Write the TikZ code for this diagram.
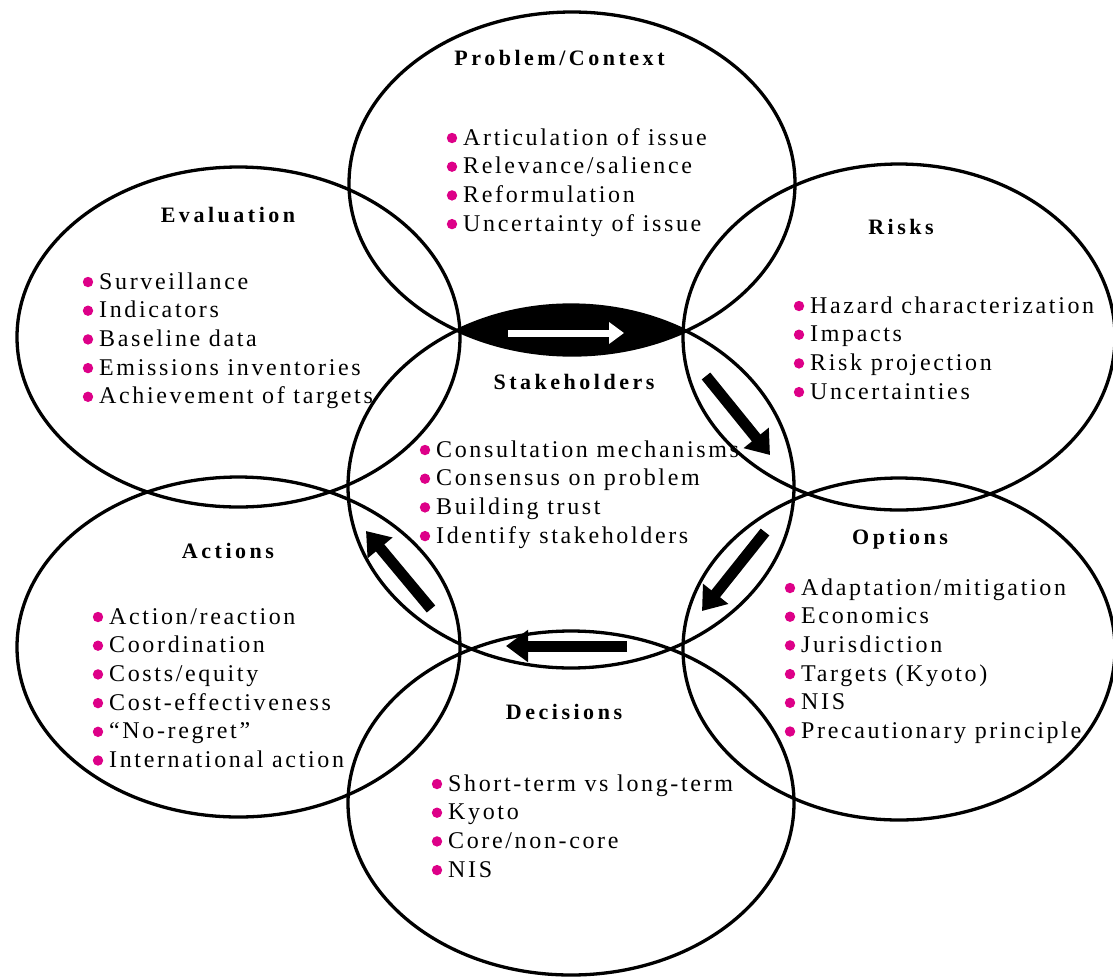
\documentclass[tikz,border=0pt]{standalone}
\usepackage{fontspec}
\setmainfont{Liberation Serif}
\newfontfamily\bodyfont[LetterSpace=11]{Liberation Serif}
\newfontfamily\headfont[LetterSpace=16]{Liberation Serif}
\usetikzlibrary{arrows.meta,shapes.geometric}
\definecolor{mag}{RGB}{221,0,136}
\newcommand\itemlist[4]{%
  \foreach \t [count=\i from 0] in {#4} {
    \fill[mag] (#2, #3+28.7*\i) circle (5.2pt);
    \node[itemtext] (#1\i) at (#2+11, #3+7+28.7*\i) {\t};
  }}
\begin{document}
\begin{tikzpicture}[x=1pt,y=-1pt,
  ell/.style={draw, ellipse, line width=3.3pt, inner sep=0pt, outer sep=0pt},
  itemtext/.style={anchor=base west, inner sep=0pt, font=\bodyfont\fontsize{24}{28}\selectfont},
  head/.style={anchor=base, inner sep=0pt, font=\headfont\bfseries\fontsize{22}{26}\selectfont},
  bigarrow/.style={line width=11pt, -{Triangle[length=22pt,width=31pt]}},
  whitearrow/.style={white, line width=7pt, -{Triangle[length=15pt,width=21pt]}}]
\useasboundingbox (0,0) rectangle (1113,978);
% intersection lens between Problem/Context and Stakeholders
\begin{scope}
  \clip (572,183.5) ellipse [x radius=223pt, y radius=171.5pt];
  \fill[black] (571,486.5) ellipse [x radius=223pt, y radius=181.5pt];
\end{scope}
% ellipses
\node[ell, minimum width=446pt, minimum height=343pt] (prob) at (572,183.5) {};
\node[ell, minimum width=443pt, minimum height=340pt] (eval) at (238.5,337) {};
\node[ell, minimum width=432pt, minimum height=346pt] (risk) at (899,337) {};
\node[ell, minimum width=446pt, minimum height=363pt] (stake) at (571,486.5) {};
\node[ell, minimum width=443pt, minimum height=340pt] (act) at (238.5,647) {};
\node[ell, minimum width=432pt, minimum height=342pt] (opt) at (899,649) {};
\node[ell, minimum width=446pt, minimum height=344pt] (dec) at (571,803) {};
% titles
\node[head] (tprob) at (559.5,65.5) {Problem/Context};
\node[head] (teval) at (228,222.5) {Evaluation};
\node[head] (trisk) at (901,234.5) {Risks};
\node[head] (tstake) at (574,389.5) {Stakeholders};
\node[head] (tact) at (228,558.5) {Actions};
\node[head] (topt) at (900,544.5) {Options};
\node[head] (tdec) at (564,719.5) {Decisions};
% item lists
\itemlist{p}{452}{138}{Articulation of issue, Relevance/salience, Reformulation, Uncertainty of issue}
\itemlist{e}{88}{282}{Surveillance, Indicators, Baseline data, Emissions inventories, Achievement of targets}
\itemlist{r}{799}{306}{Hazard characterization, Impacts, Risk projection, Uncertainties}
\itemlist{s}{425}{450}{Consultation mechanisms, Consensus on problem, Building trust, Identify stakeholders}
\itemlist{a}{98}{617}{Action/reaction, Coordination, Costs/equity, Cost-effectiveness, “No-regret”, International action}
\itemlist{o}{790}{588}{Adaptation/mitigation, Economics, Jurisdiction, Targets (Kyoto), NIS, Precautionary principle}
\itemlist{d}{437}{784}{Short-term vs long-term, Kyoto, Core/non-core, NIS}
% arrows
\coordinate (w0) at (508,333);
\coordinate (w1) at (624,333);
\coordinate (a1s) at (706,376);
\coordinate (a1e) at (770,455);
\coordinate (a2s) at (765,532);
\coordinate (a2e) at (702,611);
\coordinate (a3s) at (627,646);
\coordinate (a3e) at (506,646);
\coordinate (a4s) at (431,609);
\coordinate (a4e) at (366,531);
\draw[whitearrow] (w0) -- (w1);
\draw[bigarrow] (a1s) -- (a1e);
\draw[bigarrow] (a2s) -- (a2e);
\draw[bigarrow] (a3s) -- (a3e);
\draw[bigarrow] (a4s) -- (a4e);
\end{tikzpicture}
\end{document}
